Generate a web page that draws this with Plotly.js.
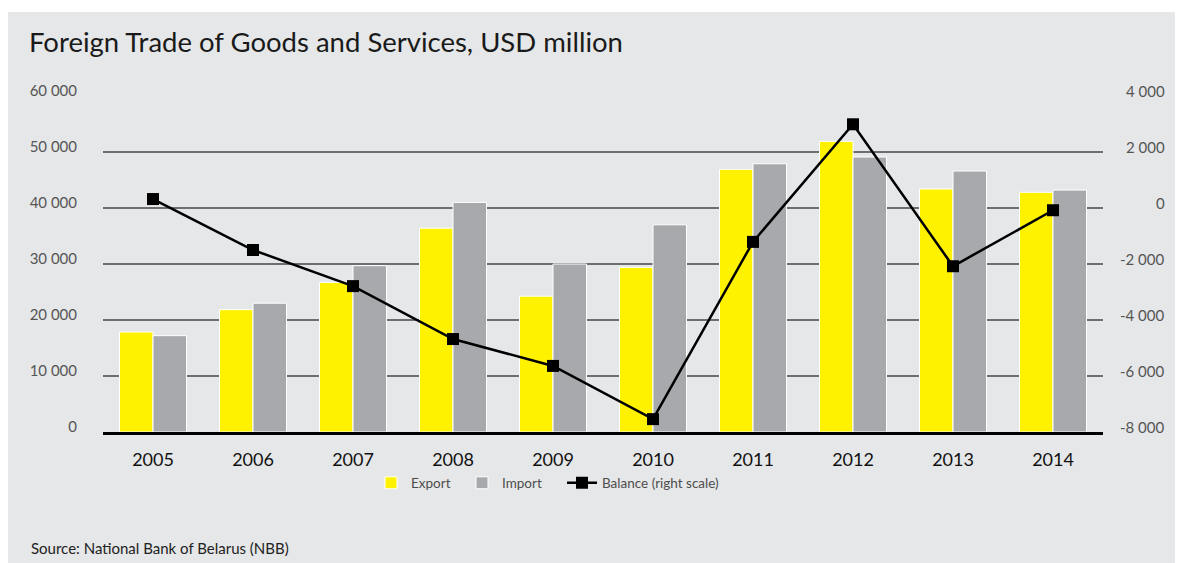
<!DOCTYPE html>
<html>
<head>
<meta charset="utf-8">
<script src="https://cdn.plot.ly/plotly-3.0.1.min.js"></script>
<style>html,body{margin:0;padding:0;background:#fff;}#chart{width:1177px;height:563px;}</style>
</head>
<body>
<div id="chart"></div>
<script>
const years = ['2005','2006','2007','2008','2009','2010','2011','2012','2013','2014'];
const exportVals = [17850, 21850, 26700, 36400, 24250, 29400, 46900, 51900, 43400, 42800];
const importVals = [17200, 23000, 29700, 41000, 30000, 37000, 47900, 49100, 46600, 43200];
const balanceVals = [320, -1500, -2790, -4680, -5640, -7540, -1210, 2990, -2080, -80];
const leftTickVals = [0, 10000, 20000, 30000, 40000, 50000, 60000];
const leftTickText = ['0', '10 000', '20 000', '30 000', '40 000', '50 000', '60 000'];
const rightTickVals = [-8000, -6000, -4000, -2000, 0, 2000, 4000];
const rightTickText = ['-8 000', '-6 000', '-4 000', '-2 000', '0', '2 000', '4 000'];

const W = 1177, H = 563;
const L = 103, R = 1170, T = 96, B = 432;
const pw = R - L, ph = B - T;
const px = v => (v - L) / pw;
const py = v => (B - v) / ph;
const FONT = 'Lato, "Open Sans", sans-serif';

const traces = [
  {type:'bar', name:'Export', x: years, y: exportVals, xaxis:'x', yaxis:'y', legend:'legend',
   marker:{color:'#fff200', line:{color:'#ffffff', width:1}}, hoverinfo:'y'},
  {type:'bar', name:'Import', x: years, y: importVals, xaxis:'x', yaxis:'y', legend:'legend2',
   marker:{color:'#a7a9ac', line:{color:'#ffffff', width:1}}, hoverinfo:'y'},
  {type:'scatter', mode:'lines+markers', name:'Balance (right scale)', x: years, y: balanceVals,
   xaxis:'x', yaxis:'y2', legend:'legend3',
   line:{color:'#000000', width:2.5}, marker:{symbol:'square', size:12, color:'#000000'}}
];

const legendBase = {orientation: 'h', xanchor: 'left', yanchor: 'middle', y: py(483),
  bgcolor: 'rgba(0,0,0,0)', borderwidth: 0, font: {family: FONT, size: 13.5, color: '#4d4d4d'}};

const rightLabels = rightTickVals.map((v, i) => ({
  text: rightTickText[i], xref: 'paper', yref: 'y2', x: px(1167), y: v,
  xanchor: 'right', yanchor: 'middle', yshift: 5, showarrow: false,
  font: {family: FONT, size: 15, color: '#555555'}
}));

const layout = {
  width: W, height: H,
  margin: {l: L, r: W - R, t: T, b: H - B, pad: 0},
  paper_bgcolor: '#ffffff',
  plot_bgcolor: 'rgba(0,0,0,0)',
  font: {family: FONT, color: '#444444'},
  showlegend: true,
  barmode: 'group', bargap: 0.33, bargroupgap: 0,
  title: {text: 'Foreign Trade of Goods and Services, USD million',
          font: {family: FONT, size: 27.5, color: '#1a1a1a'},
          xref: 'container', x: 29 / W, xanchor: 'left',
          yref: 'container', y: 1 - 42 / H, yanchor: 'middle'},
  xaxis: {domain: [0, 1000 / pw], type: 'category', range: [-0.5, 9.5],
          showgrid: false, zeroline: false, showline: true, linecolor: '#000000', linewidth: 3,
          ticks: '', ticklabelstandoff: 9,
          tickfont: {family: FONT, size: 18, color: '#111111'}},
  yaxis: {range: [0, 60000], tickvals: leftTickVals, ticktext: leftTickText,
          showgrid: true, gridcolor: '#6d6e71', gridwidth: 1.5, zeroline: false,
          showline: false, ticks: '', ticklabelstandoff: 25, ticklabelshift: -5,
          tickfont: {family: FONT, size: 15, color: '#555555'}},
  yaxis2: {range: [-8000, 4000], overlaying: 'y', side: 'right', anchor: 'x',
           showgrid: false, zeroline: false, showline: false, showticklabels: false, ticks: ''},
  legend: Object.assign({}, legendBase, {x: px(371)}),
  legend2: Object.assign({}, legendBase, {x: px(462)}),
  legend3: Object.assign({}, legendBase, {x: px(562)}),
  shapes: [{type: 'rect', xref: 'paper', yref: 'paper', layer: 'below',
            x0: px(8), x1: px(1175), y0: py(563), y1: py(12),
            fillcolor: '#e6e7e8', line: {width: 0}}],
  annotations: [{text: 'Source: National Bank of Belarus (NBB)', xref: 'paper', yref: 'paper',
                 x: px(29), y: py(548), xanchor: 'left', yanchor: 'middle', showarrow: false,
                 font: {family: FONT, size: 15, color: '#222222'}}].concat(rightLabels)
};

Plotly.newPlot('chart', traces, layout, {displayModeBar: false, staticPlot: true});
</script>
</body>
</html>
